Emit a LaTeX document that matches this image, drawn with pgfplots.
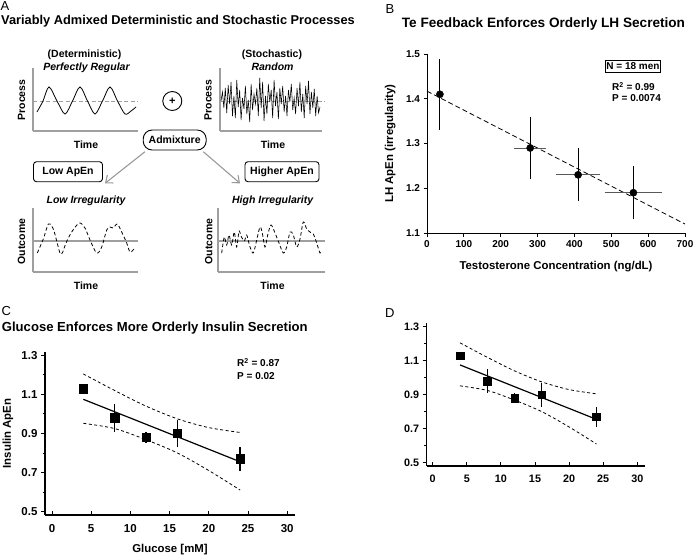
\documentclass[border=0pt]{standalone}
\usepackage{fontspec}
\setmainfont{Liberation Sans}
\usepackage{pgfplots}
\pgfplotsset{compat=1.18}
\usetikzlibrary{arrows.meta}

\pgfplotsset{
  mini/.style={scale only axis, anchor=south west, axis lines=left,
    axis line style={-, draw=gray!75, line width=1.4pt},
    xtick=\empty, ytick=\empty, clip=false},
  sci/.style={scale only axis, anchor=south west, axis lines=left,
    axis line style={-, line width=0.9pt},
    tick align=outside, major tick length=3.5pt, minor tick length=2.5pt,
    tick style={black, line width=0.9pt},
    tick label style={font=\bfseries\fontsize{10}{11}\selectfont},
    label style={font=\bfseries\fontsize{11.4}{13}\selectfont},
    /pgf/number format/assume math mode=true,
    clip=false},
}
\tikzset{
  lab/.style={font=\bfseries\fontsize{10.5}{12}\selectfont},
  ilab/.style={font=\bfseries\itshape\fontsize{10.5}{12}\selectfont},
  stat/.style={font=\bfseries\fontsize{10}{11}\selectfont, inner sep=0pt},
}

\begin{document}
\begin{tikzpicture}
\path[use as bounding box] (0pt,0pt) rectangle (693pt,-557pt);

% ---------------- panel A: schematic plots ----------------
\begin{axis}[mini, at={(33pt,-131pt)}, width=105pt, height=63pt,
  xmin=33, xmax=138, ymin=-30, ymax=33]
\addplot[gray!75, dashed, dash pattern=on 4pt off 2.5pt, line width=1pt] coordinates {(33,0) (138,0)};
\addplot[black, line width=0.8pt, smooth] coordinates {
  (37,-11) (43,0) (49,14) (57,0) (65,-13) (72.5,0) (80,14) (87.5,0)
  (95,-13) (102.5,0) (110,14) (117.5,0) (125,-13) (131,-10) (136,-6)};
\end{axis}

\begin{axis}[mini, at={(220pt,-131pt)}, width=102pt, height=63pt,
  xmin=-0.7, xmax=70.4, ymin=-30, ymax=33]
\addplot[gray!75, dashed, dash pattern=on 4pt off 2.5pt, line width=1pt] coordinates {(-0.7,0) (72.5,0)};
\addplot[black, line width=0.55pt] coordinates {
  (0,0)(1,9)(2,-7)(3,13)(4,-12)(5,16)(6,-3)(7,19)(8,-15)(9,5)(10,-17)(11,21)
  (12,-6)(13,11)(14,-19)(15,3)(16,-8)(17,15)(18,-13)(19,1)(20,-21)(21,17)
  (22,-9)(23,7)(24,-3)(25,13)(26,-15)(27,23)(28,-7)(29,19)(30,-20)(31,5)
  (32,-13)(33,17)(34,-1)(35,11)(36,-17)(37,21)(38,-5)(39,9)(40,-18)(41,13)
  (42,-3)(43,15)(44,-11)(45,5)(46,-15)(47,11)(48,-1)(49,17)(50,-9)(51,3)
  (52,-13)(53,13)(54,-5)(55,19)(56,-11)(57,7)(58,-17)(59,15)(60,-3)(61,20)
  (62,-13)(63,9)(64,-7)(65,12)(66,-15)(67,5)(68,-12)(69,-6)};
\end{axis}

\begin{axis}[mini, at={(33pt,-272pt)}, width=105pt, height=64pt,
  xmin=33, xmax=138, ymin=-31, ymax=33]
\addplot[gray!75, line width=1.3pt] coordinates {(33,0) (138,0)};
\addplot[black, line width=0.8pt, dashed, dash pattern=on 3.5pt off 2.5pt, smooth] coordinates {
  (37.3,-12) (43.3,2) (48.3,17) (51.7,15) (54,10) (56.7,0) (60,-12) (62.3,-12)
  (66,-2) (71.7,9) (79.3,18) (85,13) (90,1) (96.7,-12) (101.7,-6) (106.7,11)
  (110,14) (113.3,13) (117.3,17) (121.7,9) (126.7,-2) (130,-11) (134,-8)};
\end{axis}

\begin{axis}[mini, at={(218pt,-272pt)}, width=107pt, height=64pt,
  xmin=218, xmax=325, ymin=-31, ymax=33]
\addplot[gray!75, line width=1.3pt] coordinates {(218,0) (325,0)};
\addplot[black, line width=0.8pt, dashed, dash pattern=on 3.5pt off 2.5pt, smooth] coordinates {
  (221.7,-12) (224.3,4) (226.7,-4) (229,6) (231.7,-4) (234.3,9) (236.7,-6)
  (239,10) (241,5) (244.3,0) (246.7,6) (250,-6) (253.3,-12) (256.7,1)
  (260,14) (262.3,8) (265,-6) (267.7,6) (271,16) (275,8) (279,-2)
  (283.3,-12) (286.7,-6) (290,9) (293.3,6) (296.7,-6) (300,2) (303.3,19)
  (306.7,12) (310,9) (313.3,7) (316.7,-2) (320,-12) (322.3,-10)};
\end{axis}

\begin{scope}[x=1pt, y=-1pt]
\node[anchor=base west, inner sep=0pt, font=\fontsize{13}{14}\selectfont] at (0.5,10) {A};
\node[anchor=base west, inner sep=0pt, font=\bfseries\fontsize{12.8}{14}\selectfont] at (1,24.3)
  {Variably Admixed Deterministic and Stochastic Processes};
\node[lab, anchor=base] at (84.5,57.3) {(Deterministic)};
\node[ilab, anchor=base] at (86.5,70) {Perfectly Regular};
\node[lab, anchor=base] at (272,57.3) {(Stochastic)};
\node[ilab, anchor=base] at (272.5,70) {Random};
\node[lab, rotate=90] at (21.5,100) {Process};
\node[lab, rotate=90] at (208,100) {Process};
\node[lab, anchor=base] at (86,148) {Time};
\node[lab, anchor=base] at (273,148) {Time};
\draw[line width=0.9pt] (172.3,101) circle (9.5pt);
\node[font=\bfseries\fontsize{11}{12}\selectfont] at (172.3,101) {+};
\node[lab, draw, line width=0.9pt, rounded corners=9pt, inner sep=1pt,
  minimum width=63pt, minimum height=20pt] at (174.7,140) {Admixture};
\draw[gray!80, line width=1.1pt, -{Straight Barb[length=6pt, width=10pt]}] (145,151.7) -- (105,183.3);
\draw[gray!80, line width=1.1pt, -{Straight Barb[length=6pt, width=10pt]}] (203.3,151.7) -- (240,183.3);
\node[lab, draw, line width=0.9pt, rounded corners=3pt, inner sep=1pt,
  minimum width=69pt, minimum height=20pt] at (68,171.7) {Low ApEn};
\node[lab, draw, line width=0.9pt, rounded corners=3pt, inner sep=1pt,
  minimum width=74pt, minimum height=20pt] at (282,171.7) {Higher ApEn};
\node[ilab, anchor=base] at (86,203) {Low Irregularity};
\node[ilab, anchor=base] at (272.7,203) {High Irregularity};
\node[lab, rotate=90] at (21.5,241.5) {Outcome};
\node[lab, rotate=90] at (208.7,241.5) {Outcome};
\node[lab, anchor=base] at (86,289) {Time};
\node[lab, anchor=base] at (272.5,289) {Time};

% panel labels and titles
\node[anchor=base west, inner sep=0pt, font=\fontsize{13}{14}\selectfont] at (385.5,13) {B};
\node[anchor=base west, inner sep=0pt, font=\bfseries\fontsize{13.6}{15}\selectfont] at (401.7,27.7)
  {Te Feedback Enforces Orderly LH Secretion};
\node[anchor=base west, inner sep=0pt, font=\fontsize{13}{14}\selectfont] at (1.5,315) {C};
\node[anchor=base west, inner sep=0pt, font=\bfseries\fontsize{13.1}{15}\selectfont] at (1.7,331.7)
  {Glucose Enforces More Orderly Insulin Secretion};
\node[anchor=base west, inner sep=0pt, font=\fontsize{13}{14}\selectfont] at (385,317) {D};

% stats text
\node[stat, draw, line width=0.8pt, minimum width=55pt, minimum height=11.5pt] at (633,66.5) {N = 18 men};
\node[stat, anchor=base west] at (612,90.7) {R\textsuperscript{2} = 0.99};
\node[stat, anchor=base west] at (612,101.7) {P = 0.0074};
\node[stat, anchor=base west] at (237,366.7) {R\textsuperscript{2} = 0.87};
\node[stat, anchor=base west] at (237,379) {P = 0.02};
\end{scope}

% ---------------- panel B ----------------
\begin{axis}[sci, at={(427pt,-233pt)}, width=258pt, height=179pt,
  xmin=0, xmax=700, ymin=1.1, ymax=1.5,
  xtick={0,100,200,300,400,500,600,700},
  ytick={1.1,1.2,1.3,1.4,1.5},
  yticklabel style={/pgf/number format/.cd, fixed, precision=1, fixed zerofill},
  xlabel={Testosterone Concentration (ng/dL)},
  ylabel={LH ApEn (irregularity)},
  xlabel style={at={(axis description cs:0.5,-0.19)}, anchor=center},
  ylabel style={at={(axis description cs:-0.143,0.5)}, anchor=center}]
\addplot[black, dash pattern=on 5pt off 3pt, line width=0.8pt] coordinates {(0,1.417) (700,1.12)};
\addplot[draw=none, mark=none, error bars/.cd, x dir=both, x explicit,
  error bar style={gray!70!black, line width=0.9pt},
  error mark options={gray!70!black, mark size=3pt, line width=0.9pt}]
  coordinates {(280,1.29) +- (35,0) (410,1.23) +- (51,0) (560,1.19) +- (70,0)};
\addplot[only marks, mark=*, mark size=3.6pt, black, error bars/.cd, y dir=both, y explicit,
  error bar style={black, line width=0.9pt},
  error mark options={black, mark size=4pt, line width=0.9pt}]
  coordinates {(35,1.41) +- (0,0.07) (280,1.29) +- (0,0.06) (410,1.23) +- (0,0.05) (560,1.19) +- (0,0.05)};
\end{axis}

% ---------------- panel C ----------------
\begin{axis}[sci, at={(45pt,-515pt)}, width=250pt, height=163.3pt,
  xmin=-0.89, xmax=31.0, ymin=0.482, ymax=1.319,
  x axis line style={line width=1.8pt}, y axis line style={line width=1.2pt},
  xtick={0,5,10,15,20,25,30}, ytick={0.5,0.7,0.9,1.1,1.3},
  minor ytick={0.6,0.8,1.0,1.2},
  major tick length=4pt,
  x tick style={yshift=4pt},
  tick label style={font=\bfseries\fontsize{11.5}{12}\selectfont},
  yticklabel style={/pgf/number format/.cd, fixed, precision=1, fixed zerofill},
  xticklabel style={yshift=-2pt},
  xlabel={Glucose [mM]}, ylabel={Insulin ApEn},
  xlabel style={at={(axis description cs:0.5,-0.214)}, anchor=center},
  ylabel style={at={(axis description cs:-0.148,0.5)}, anchor=center}]
\addplot[black, line width=1.2pt] coordinates {(4,1.075) (24,0.755)};
\addplot[black, line width=0.8pt, dash pattern=on 3pt off 2.5pt, smooth] coordinates
  {(4,1.205) (8,1.12) (12,1.04) (16,0.975) (20,0.93) (24,0.905)};
\addplot[black, line width=0.8pt, dash pattern=on 3pt off 2.5pt, smooth] coordinates
  {(4,0.952) (8,0.925) (12,0.868) (16,0.80) (20,0.71) (24,0.61)};
\addplot[only marks, mark=square*, mark size=4.2pt, black, error bars/.cd, y dir=both, y explicit,
  error mark=none, error bar style={black, line width=1.3pt}]
  coordinates {(4,1.13) +- (0,0) (8,0.98) +- (0,0.07) (12,0.88) +- (0,0.03) (16,0.90) +- (0,0.07) (24,0.77) +- (0,0.06)};
\end{axis}

% ---------------- panel D ----------------
\begin{axis}[sci, at={(426.7pt,-465.7pt)}, width=218.3pt, height=143pt,
  xmin=-0.88, xmax=31.13, ymin=0.482, ymax=1.3235,
  x axis line style={line width=1.8pt}, y axis line style={line width=1.2pt},
  xtick={0,5,10,15,20,25,30}, ytick={0.5,0.7,0.9,1.1,1.3},
  minor ytick={0.6,0.8,1.0,1.2},
  major tick length=4pt,
  x tick style={yshift=4pt},
  tick label style={font=\bfseries\fontsize{10.8}{12}\selectfont},
  yticklabel style={/pgf/number format/.cd, fixed, precision=1, fixed zerofill},
  xticklabel style={yshift=-2pt}]
\addplot[black, line width=1.2pt] coordinates {(4,1.075) (24,0.755)};
\addplot[black, line width=0.8pt, dash pattern=on 3pt off 2.5pt, smooth] coordinates
  {(4,1.205) (8,1.12) (12,1.04) (16,0.975) (20,0.93) (24,0.905)};
\addplot[black, line width=0.8pt, dash pattern=on 3pt off 2.5pt, smooth] coordinates
  {(4,0.952) (8,0.925) (12,0.868) (16,0.80) (20,0.71) (24,0.61)};
\addplot[only marks, mark=square*, mark size=3.8pt, black, error bars/.cd, y dir=both, y explicit,
  error mark=none, error bar style={black, line width=1.3pt}]
  coordinates {(4,1.13) +- (0,0) (8,0.98) +- (0,0.07) (12,0.88) +- (0,0.03) (16,0.90) +- (0,0.07) (24,0.77) +- (0,0.06)};
\end{axis}
\end{tikzpicture}
\end{document}
